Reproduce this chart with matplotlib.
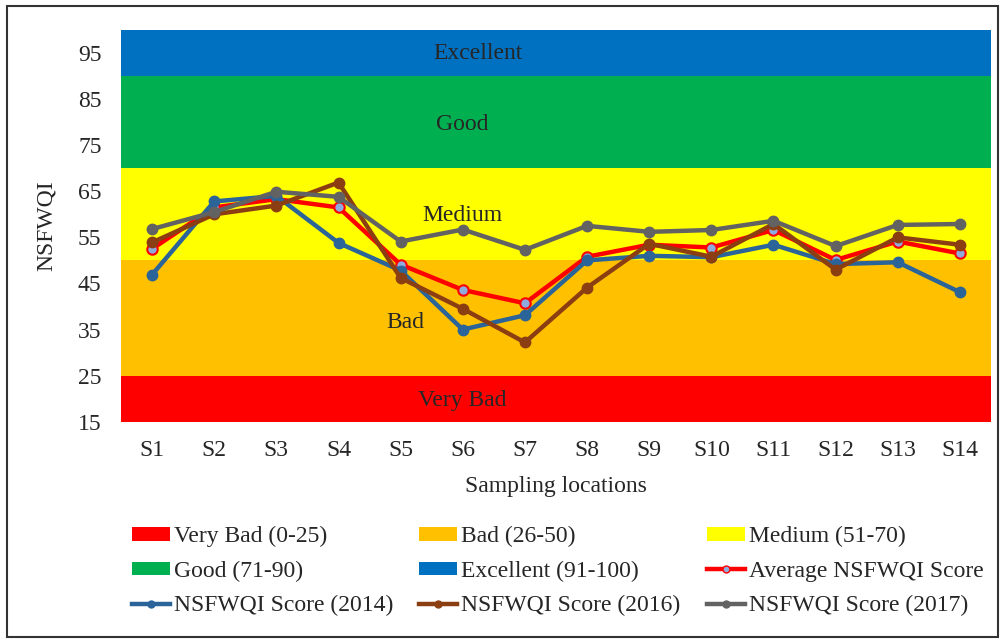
import matplotlib
matplotlib.use("Agg")
import matplotlib.pyplot as plt
from matplotlib.patches import Patch, Rectangle
from matplotlib.lines import Line2D

# ---- data ----
locations = ["S1", "S2", "S3", "S4", "S5", "S6", "S7", "S8", "S9", "S10", "S11", "S12", "S13", "S14"]
avg_score = [52.5, 61.5, 63.3, 61.5, 49.1, 43.6, 40.7, 50.8, 53.4, 52.8, 56.6, 50.1, 54.1, 51.5]
score_2014 = [46.9, 62.8, 64.0, 53.8, 47.8, 35.0, 38.1, 50.0, 51.0, 50.7, 53.4, 49.2, 49.6, 43.1]
score_2016 = [53.9, 60.0, 61.9, 66.9, 46.2, 39.5, 32.2, 44.1, 53.6, 50.8, 57.9, 48.0, 55.0, 53.4]
score_2017 = [56.8, 60.5, 64.9, 63.8, 54.1, 56.7, 52.3, 57.5, 56.2, 56.6, 58.6, 53.1, 57.7, 57.9]

band_names = ["Very Bad", "Bad", "Medium", "Good", "Excellent"]
band_legend = ["Very Bad (0-25)", "Bad (26-50)", "Medium (51-70)", "Good (71-90)", "Excellent (91-100)"]
band_lower = [15, 25, 50, 70, 90]
band_upper = [25, 50, 70, 90, 100]
band_colors = ["#FF0000", "#FFC000", "#FFFF00", "#00B050", "#0070C0"]
band_label_x = [4.99, 4.07, 4.99, 4.99, 5.25]
band_label_y = [19.7, 36.6, 59.7, 79.6, 94.9]

yticks = [15, 25, 35, 45, 55, 65, 75, 85, 95]

plt.rcParams['font.family'] = ['Liberation Serif', 'DejaVu Serif']
FS = 17

fig = plt.figure(figsize=(10.01, 6.40), dpi=100)
fig.patch.set_facecolor("white")
ax = fig.add_axes([121 / 1001, 1 - 421.7 / 640, 870 / 1001, (421.7 - 30) / 640])

x = list(range(len(locations)))
ax.set_xlim(-0.5, len(locations) - 0.5)
ax.set_ylim(15, 100)

for lo, hi, c in zip(band_lower, band_upper, band_colors):
    ax.axhspan(lo, hi, color=c, lw=0, zorder=0)

for name, bx, by in zip(band_names, band_label_x, band_label_y):
    ax.text(bx, by, name, ha="center", va="center", fontsize=FS, color="#262626", zorder=1)

lw = 3.2
ms = 7.5
ax.plot(x, avg_score, color="#FF0000", lw=lw, marker="o", ms=ms, mfc="#8FAADC", mec="#FF0000", mew=1.5, zorder=3)
ax.plot(x, score_2014, color="#2A6499", lw=lw, marker="o", ms=ms, mfc="#2A6499", mec="#2A6499", zorder=4)
ax.plot(x, score_2016, color="#8B3E12", lw=lw, marker="o", ms=ms, mfc="#8B3E12", mec="#8B3E12", zorder=5)
ax.plot(x, score_2017, color="#626262", lw=lw, marker="o", ms=ms, mfc="#626262", mec="#626262", zorder=6)

ax.set_xticks(x)
ax.set_xticklabels(locations, fontsize=FS, color="#262626")
ax.set_yticks(yticks)
ax.set_yticklabels([str(v) for v in yticks], fontsize=FS, color="#262626")
ax.tick_params(axis="both", length=0)
ax.tick_params(axis="x", pad=13)
ax.tick_params(axis="y", pad=14)
for s in ax.spines.values():
    s.set_visible(False)

ax.set_ylabel("NSFWQI", fontsize=FS, color="#262626")
ax.yaxis.set_label_coords(-0.0736, 0.5)
ax.set_xlabel("Sampling locations", fontsize=FS, color="#262626")
ax.xaxis.set_label_coords(0.5, -0.138)

# ---- legend, three columns ----
patch_handles = [Patch(facecolor=c, edgecolor="none") for c in band_colors]
h_avg = Line2D([], [], color="#FF0000", lw=lw, marker="o", ms=5, mfc="#8FAADC", mec="#FF0000")
h_14 = Line2D([], [], color="#2A6499", lw=lw, marker="o", ms=5, mfc="#2A6499", mec="#2A6499")
h_16 = Line2D([], [], color="#8B3E12", lw=lw, marker="o", ms=5, mfc="#8B3E12", mec="#8B3E12")
h_17 = Line2D([], [], color="#626262", lw=lw, marker="o", ms=5, mfc="#626262", mec="#626262")

columns = [
    ([patch_handles[0], patch_handles[3], h_14], [band_legend[0], band_legend[3], "NSFWQI Score (2014)"], 132),
    ([patch_handles[1], patch_handles[4], h_16], [band_legend[1], band_legend[4], "NSFWQI Score (2016)"], 419),
    ([patch_handles[2], h_avg, h_17], [band_legend[2], "Average NSFWQI Score", "NSFWQI Score (2017)"], 707),
]
for hs, ls, px in columns:
    fig.legend(hs, ls, loc="upper left", bbox_to_anchor=(px / 1001, 1 - 526 / 640),
               frameon=False, fontsize=FS, handlelength=1.6, handleheight=0.5,
               handletextpad=0.18, borderpad=0, borderaxespad=0, labelspacing=0.57,
               numpoints=1, labelcolor="#262626")

# outer frame
fig.patches.append(Rectangle((7 / 1001, 1 - 637 / 640), 991 / 1001, 631 / 640,
                             transform=fig.transFigure, fill=False, edgecolor="#333333", lw=1.5))

fig.savefig("out.png", dpi=100)
